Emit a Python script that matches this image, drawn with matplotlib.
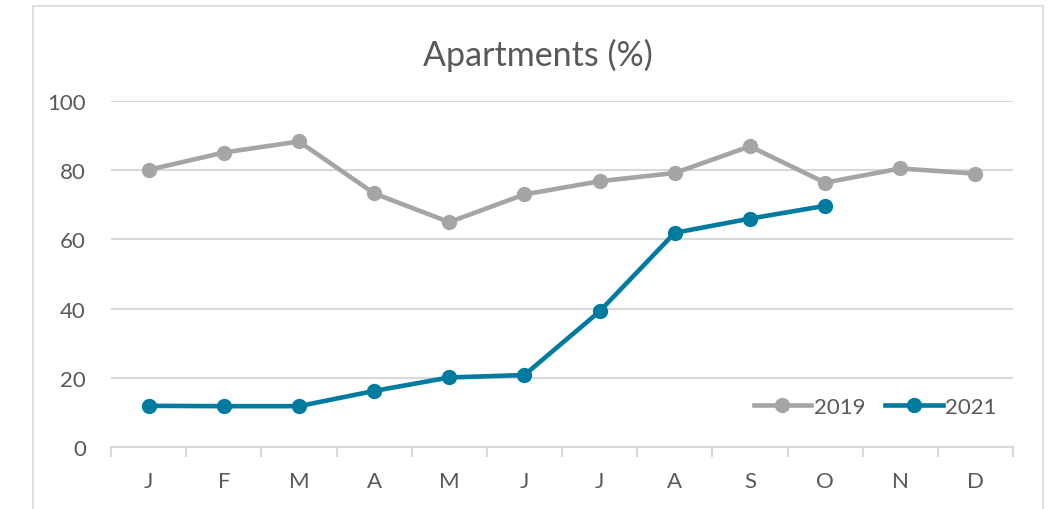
import matplotlib.pyplot as plt
from matplotlib.patches import Rectangle
from matplotlib.lines import Line2D

# data
months = ['J', 'F', 'M', 'A', 'M', 'J', 'J', 'A', 'S', 'O', 'N', 'D']
y2019 = [80.1, 85.1, 88.3, 73.3, 65.0, 73.0, 76.8, 79.2, 86.9, 76.4, 80.5, 79.0]
y2021 = [11.9, 11.8, 11.8, 16.2, 20.1, 20.8, 39.2, 61.9, 66.0, 69.7]

grey = '#A5A5A5'
teal = '#007BA0'
txt = '#595959'
gridc = '#D9D9D9'

plt.rcParams['font.family'] = ['Lato', 'DejaVu Sans']

fig = plt.figure(figsize=(10.51, 5.10), dpi=100)
W, H = 1051, 510

# chart border (extends past the bottom of the picture)
fig.patches.append(Rectangle((33 / W, -0.1), (1043 - 33) / W, 1.1 - 7 / H,
                             transform=fig.transFigure, fill=False,
                             edgecolor=gridc, linewidth=1.2))

ax = fig.add_axes([111 / W, 62 / H, (1013 - 111) / W, 346 / H])

x = list(range(len(months)))
ax.plot(x, y2019, color=grey, lw=3.3, marker='o', ms=10, label='2019',
        solid_capstyle='round', zorder=3)
ax.plot(x[:len(y2021)], y2021, color=teal, lw=3.3, marker='o', ms=10,
        label='2021', solid_capstyle='round', zorder=4)

ax.set_xlim(-0.5, 11.5)
ax.set_ylim(0, 100)
ax.set_yticks(range(0, 101, 20))
ax.yaxis.grid(True, color=gridc, lw=1.5)
ax.set_axisbelow(True)
for s in ['top', 'right', 'left']:
    ax.spines[s].set_visible(False)
ax.spines['bottom'].set_color(gridc)
ax.spines['bottom'].set_linewidth(1.5)

ax.set_xticks(x)
ax.set_xticklabels(months)
ax.set_xticks([i - 0.5 for i in range(13)], minor=True)
ax.tick_params(axis='x', which='major', length=0, pad=17, labelsize=16, labelcolor=txt)
ax.tick_params(axis='x', which='minor', length=7, width=1.5, color=gridc)
ax.tick_params(axis='y', length=0, pad=18, labelsize=16, labelcolor=txt)

fig.text(538 / W, 1 - 55 / H, 'Apartments (%)', ha='center', va='center',
         fontsize=24.5, color=txt)

handles = [Line2D([], [], color=grey, lw=3.3, marker='o', ms=10),
           Line2D([], [], color=teal, lw=3.3, marker='o', ms=10)]
leg = ax.legend(handles, ['2019', '2021'], loc='lower right', ncol=2,
                frameon=False, fontsize=16, handlelength=2.6,
                handletextpad=0.1, columnspacing=0.9,
                bbox_to_anchor=(1.004, 0.03))
for t in leg.get_texts():
    t.set_color(txt)

fig.savefig('out.png', dpi=100)
